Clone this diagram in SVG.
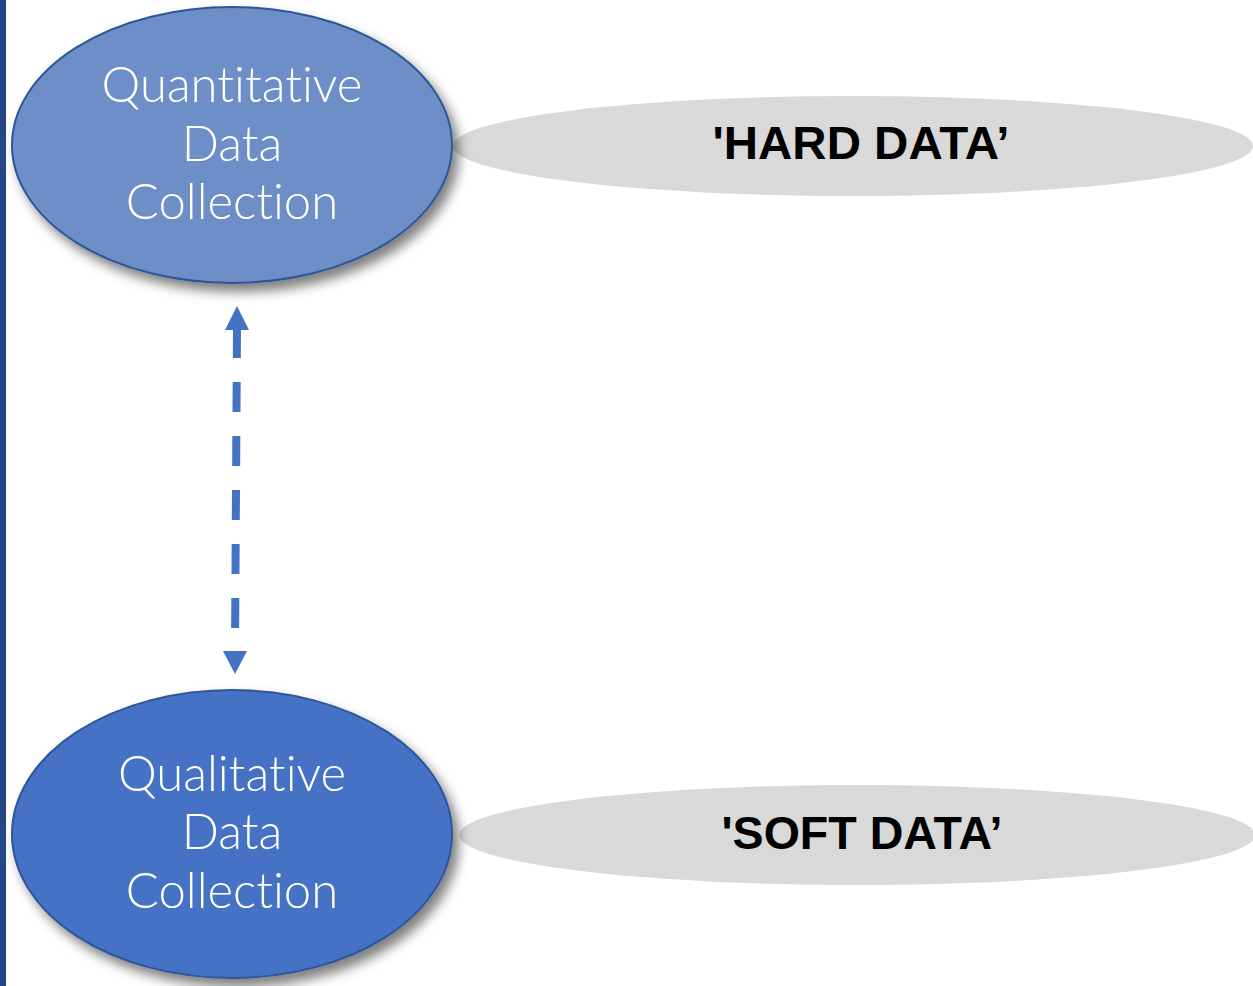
<svg xmlns="http://www.w3.org/2000/svg" width="1253" height="986" viewBox="0 0 1253 986">
<defs>
<style>
.light{font-family:Lato,"Open Sans","Liberation Sans",sans-serif;font-weight:300;font-size:49px;fill:#ffffff;text-anchor:middle;font-variant-ligatures:none;font-feature-settings:"liga" 0,"dlig" 0}
.bold{font-family:"Liberation Sans",Arial,sans-serif;font-weight:bold;font-size:47px;fill:#000000;text-anchor:middle}
.gray{fill:#d9d9d9}
.blue{stroke:#2f5597;stroke-width:2}
</style>
<filter id="sh" x="-10%" y="-10%" width="130%" height="130%">
<feDropShadow dx="6" dy="8" stdDeviation="6" flood-color="#000" flood-opacity="0.5"/>
</filter>
</defs>
<rect x="0" y="0" width="1253" height="986" fill="#ffffff"/>
<rect x="0" y="0" width="6" height="986" fill="#254785"/>
<g id="hard">
<ellipse class="gray" cx="853" cy="146" rx="400" ry="50"/>
<text class="bold" x="861" y="159" textLength="297" lengthAdjust="spacingAndGlyphs">'HARD DATA’</text>
</g>
<g id="soft">
<ellipse class="gray" cx="857" cy="835" rx="398" ry="50"/>
<text class="bold" x="862" y="849" textLength="281" lengthAdjust="spacingAndGlyphs">'SOFT DATA’</text>
</g>
<g id="quant">
<ellipse class="blue" cx="232" cy="145" rx="220" ry="138" fill="#6d8ec6" filter="url(#sh)"/>
<text class="light" x="232" y="102">Quantitative</text>
<text class="light" x="232" y="161">Data</text>
<text class="light" x="232" y="219">Collection</text>
</g>
<g id="qual">
<ellipse class="blue" cx="232" cy="834" rx="220" ry="144" fill="#4472c4" filter="url(#sh)"/>
<text class="light" x="232" y="791">Qualitative</text>
<text class="light" x="232" y="849">Data</text>
<text class="light" x="232" y="908">Collection</text>
</g>
<g id="connectors">
<line x1="237" y1="328" x2="235" y2="650" stroke="#4472c4" stroke-width="8" stroke-dasharray="30 24"/>
<polygon points="237,306 249,330 225,330" fill="#4472c4"/>
<polygon points="235,674 223,651 247,651" fill="#4472c4"/>
</g>
</svg>
